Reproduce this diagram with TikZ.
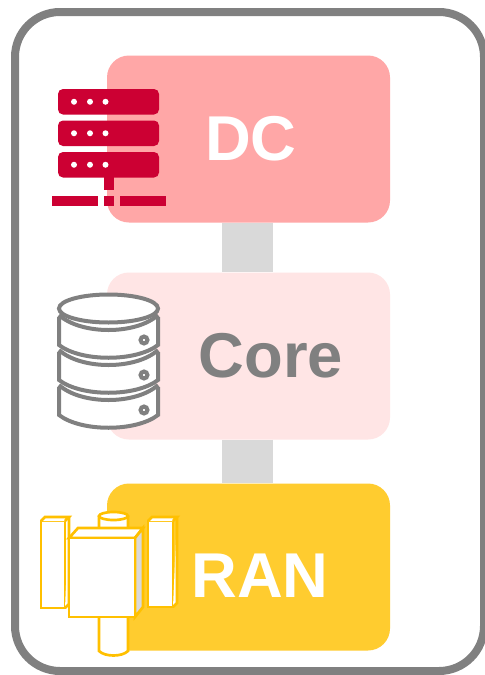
\documentclass[tikz,border=0pt]{standalone}
\usepackage{fontspec}
\setmainfont{Liberation Sans}
\usetikzlibrary{positioning}
\definecolor{framegray}{HTML}{808080}
\definecolor{linkgray}{HTML}{D9D9D9}
\definecolor{dcpink}{HTML}{FFA7A7}
\definecolor{corepink}{HTML}{FFE5E5}
\definecolor{ranyellow}{HTML}{FFCC2F}
\definecolor{serverred}{HTML}{CC0033}
\definecolor{antyellow}{HTML}{FFC000}
\tikzset{
  layerbox/.style={minimum width=212.25pt,minimum height=125.25pt,rounded corners=16.5pt,inner sep=0pt},
  layertext/.style={font=\fontsize{47.5}{47.5}\selectfont\bfseries,inner sep=0pt},
  layerlink/.style={linkgray,line width=38.25pt},
  dbline/.style={framegray,line width=3pt,fill=white},
  antline/.style={antyellow,line width=2pt,fill=white}
}
\begin{document}
\begin{tikzpicture}[x=0.75pt,y=-0.75pt]
\useasboundingbox (0,0) rectangle (485,675);
\fill[white](0,0) rectangle (485,675);

\draw[framegray,line width=6pt,rounded corners=33.75pt](15,12) rectangle (484,671);

\node[layerbox,fill=dcpink] (dc) at(248.5,139){};
\node[layerbox,fill=corepink] (core) at(248.5,356){};
\node[layerbox,fill=ranyellow] (ran) at(248.5,567){};
\draw[layerlink]([xshift=-0.75pt]dc.south)--([xshift=-0.75pt]core.north);
\draw[layerlink]([xshift=-0.75pt]core.south)--([xshift=-0.75pt]ran.north);

\node[layertext,white] (dclabel) at(251,139){DC};
\node[layertext,framegray] (corelabel) at(271,356){Core};
\node[layertext,white] (ranlabel) at(260,576){RAN};

% server
\foreach \y in {89,120.5,152}{
  \fill[serverred,rounded corners=3.75pt](58,\y) rectangle (159,\y+25.5);
  \foreach \x in {74,90,105.5}{
    \fill[white](\x,\y+12.75) circle (2.25pt);
  }
}
\fill[serverred](104,177) rectangle (114,190);
\fill[serverred](52,196) rectangle (98,206);
\fill[serverred](104,196) rectangle (114,206);
\fill[serverred](120,196) rectangle (166,206);

% database
\foreach \y in {387,352,317}{
  \draw[dbline](59,\y)--++(0,28) .. controls +(22,17) and +(-22,17) .. ++(99,0)--++(0,-28);
  \draw[dbline](59,\y-2) .. controls +(22,20) and +(-22,20) .. ++(99,0);
  \draw[dbline](144,\y+23) circle (2.6pt);
}
\draw[dbline](108.5,308.5) ellipse [x radius=49.5,y radius=14];

% antenna
\draw[antline](99,516)--(99,651) .. controls +(6,6) and +(-6,6) .. (128,651)--(128,516);
\draw[antline](113.5,516) ellipse [x radius=14.5,y radius=4];
\draw[antline](41,521)--++(0,87)--++(24,0)--++(0,-87)--cycle;
\draw[antline](41,521)--++(4,-4)--++(24,0)--++(-4,4);
\draw[antline](65,608)--++(4,-4)--++(0,-87);
\draw[antline](148,521)--++(0,86)--++(25,0)--++(0,-86)--cycle;
\draw[antline](148,521)--++(4,-4)--++(25,0)--++(-4,4);
\draw[antline](173,607)--++(4,-4)--++(0,-86);
\draw[antline](69,538)--++(9,-10)--++(65,0)--++(-8,10)--cycle;
\draw[antline,fill=linkgray](135,538)--++(8,-10)--++(0,79)--++(-8,10)--cycle;
\draw[antline](69,538) rectangle (135,617);
\end{tikzpicture}
\end{document}
